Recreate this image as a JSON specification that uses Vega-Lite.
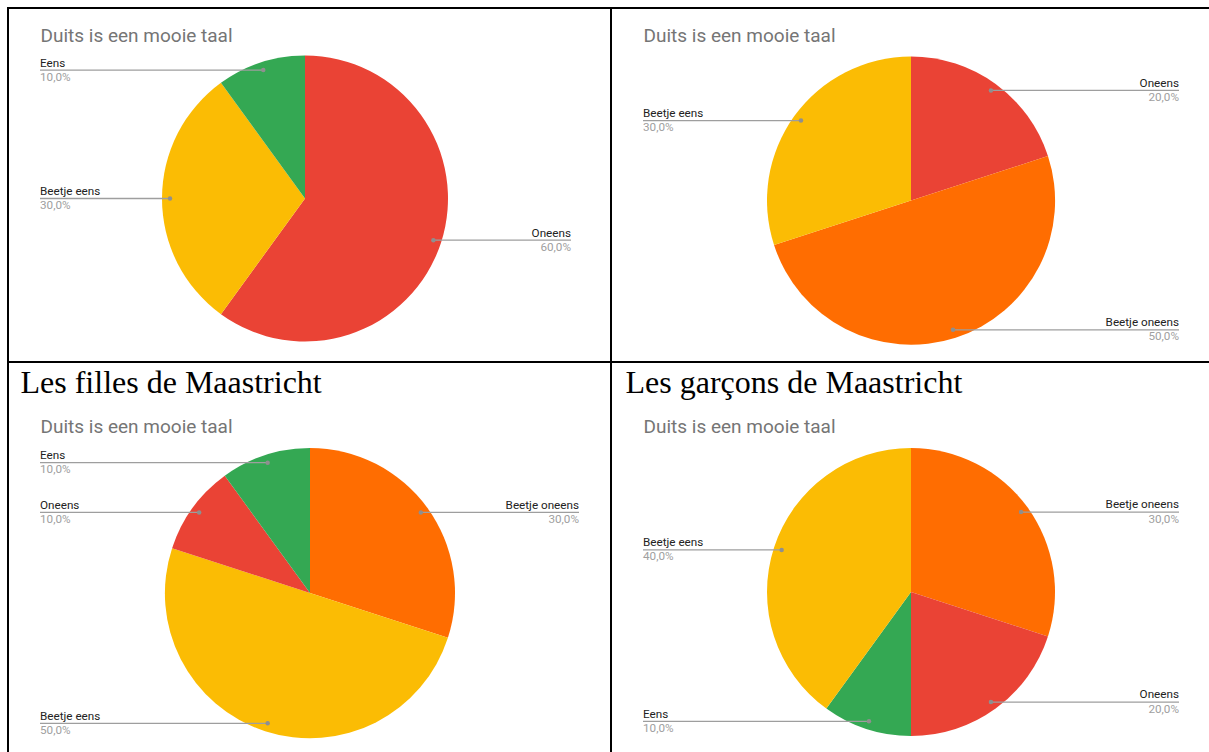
{
  "$schema": "https://vega.github.io/schema/vega-lite/v6.json",
  "background": "white",
  "padding": {"left": 7, "top": 7, "right": -6, "bottom": -5},
  "datasets": {
    "pie": [
      {"panel": "TL", "category": "Oneens", "value": 0.6, "ord": 1},
      {"panel": "TL", "category": "Beetje eens", "value": 0.3, "ord": 2},
      {"panel": "TL", "category": "Eens", "value": 0.1, "ord": 3},
      {"panel": "TR", "category": "Oneens", "value": 0.2, "ord": 1},
      {"panel": "TR", "category": "Beetje oneens", "value": 0.5, "ord": 2},
      {"panel": "TR", "category": "Beetje eens", "value": 0.3, "ord": 3},
      {"panel": "BL", "category": "Beetje oneens", "value": 0.3, "ord": 1},
      {"panel": "BL", "category": "Beetje eens", "value": 0.5, "ord": 2},
      {"panel": "BL", "category": "Oneens", "value": 0.1, "ord": 3},
      {"panel": "BL", "category": "Eens", "value": 0.1, "ord": 4},
      {"panel": "BR", "category": "Beetje oneens", "value": 0.3, "ord": 1},
      {"panel": "BR", "category": "Oneens", "value": 0.2, "ord": 2},
      {"panel": "BR", "category": "Eens", "value": 0.1, "ord": 3},
      {"panel": "BR", "category": "Beetje eens", "value": 0.4, "ord": 4}
    ]
  },
  "data": {"name": "pie"},
  "columns": 2,
  "spacing": 0,
  "bounds": "flush",
  "resolve": {"scale": {"x": "independent", "y": "independent", "theta": "independent"}},
  "config": {
    "view": {"stroke": "#000000", "strokeWidth": 2},
    "font": "Roboto",
    "locale": {"number": {"decimal": ",", "thousands": ".", "grouping": [3], "currency": ["€", ""]}}
  },
  "concat": [
    {
      "width": 603, "height": 354,
      "transform": [
        {"filter": "datum.panel === 'TL'"},
        {"window": [{"op": "sum", "field": "value", "as": "cum"}], "sort": [{"field": "ord"}]},
        {"calculate": "2 * PI * (datum.cum - datum.value / 2)", "as": "ang"},
        {"calculate": "297 + 135 * sin(datum.ang)", "as": "px"},
        {"calculate": "190.5 - 135 * cos(datum.ang)", "as": "py"},
        {"calculate": "sin(datum.ang) < 0 ? 'left' : 'right'", "as": "side"},
        {"calculate": "datum.side === 'left' ? 32 : 563", "as": "ex"}
      ],
      "layer": [
        {
          "mark": {"type": "arc", "outerRadius": 143},
          "encoding": {
            "theta": {"field": "value", "type": "quantitative", "stack": true},
            "order": {"field": "ord", "type": "quantitative"},
            "color": {"field": "category", "type": "nominal", "legend": null, "scale": {"domain": ["Oneens", "Beetje oneens", "Beetje eens", "Eens"], "range": ["#EA4335", "#FF6D01", "#FBBC04", "#34A853"]}},
            "x": {"datum": 297, "type": "quantitative", "scale": {"domain": [0, 603], "nice": false, "zero": false}, "axis": null},
            "y": {"datum": 190.5, "type": "quantitative", "scale": {"domain": [0, 354], "reverse": true, "nice": false, "zero": false},
                  "axis": {"orient": "left", "domain": false, "ticks": false, "labels": false, "grid": false, "title": "Duits is een mooie taal", "titleAngle": 0, "titleX": 32, "titleY": 33, "titleAlign": "left", "titleBaseline": "alphabetic", "titleFont": "Roboto", "titleFontSize": 19, "titleFontWeight": "normal", "titleColor": "#757575"}}
          }
        },
        {
          "mark": {"type": "rule", "color": "#9e9e9e", "strokeWidth": 1.3},
          "encoding": {
            "x": {"field": "px", "type": "quantitative", "scale": {"domain": [0, 603], "nice": false, "zero": false}, "axis": null},
            "x2": {"field": "ex"},
            "y": {"field": "py", "type": "quantitative", "scale": {"domain": [0, 354], "reverse": true, "nice": false, "zero": false},
                  "axis": {"orient": "left", "domain": false, "ticks": false, "labels": false, "grid": false, "title": "Duits is een mooie taal", "titleAngle": 0, "titleX": 32, "titleY": 33, "titleAlign": "left", "titleBaseline": "alphabetic", "titleFont": "Roboto", "titleFontSize": 19, "titleFontWeight": "normal", "titleColor": "#757575"}}
          }
        },
        {
          "mark": {"type": "point", "filled": true, "size": 20, "color": "#8f8f8f", "opacity": 1},
          "encoding": {
            "x": {"field": "px", "type": "quantitative", "scale": {"domain": [0, 603], "nice": false, "zero": false}, "axis": null},
            "y": {"field": "py", "type": "quantitative", "scale": {"domain": [0, 354], "reverse": true, "nice": false, "zero": false},
                  "axis": {"orient": "left", "domain": false, "ticks": false, "labels": false, "grid": false, "title": "Duits is een mooie taal", "titleAngle": 0, "titleX": 32, "titleY": 33, "titleAlign": "left", "titleBaseline": "alphabetic", "titleFont": "Roboto", "titleFontSize": 19, "titleFontWeight": "normal", "titleColor": "#757575"}}
          }
        },
        {
          "mark": {"type": "text", "font": "Roboto", "fontSize": 11.7, "color": "#222222", "baseline": "alphabetic", "dy": -3.6, "align": {"expr": "datum.side"}},
          "encoding": {
            "x": {"field": "ex", "type": "quantitative", "scale": {"domain": [0, 603], "nice": false, "zero": false}, "axis": null},
            "y": {"field": "py", "type": "quantitative", "scale": {"domain": [0, 354], "reverse": true, "nice": false, "zero": false},
                  "axis": {"orient": "left", "domain": false, "ticks": false, "labels": false, "grid": false, "title": "Duits is een mooie taal", "titleAngle": 0, "titleX": 32, "titleY": 33, "titleAlign": "left", "titleBaseline": "alphabetic", "titleFont": "Roboto", "titleFontSize": 19, "titleFontWeight": "normal", "titleColor": "#757575"}},
            "text": {"field": "category", "type": "nominal"}
          }
        },
        {
          "mark": {"type": "text", "font": "Roboto", "fontSize": 11.7, "color": "#a0a0a0", "baseline": "alphabetic", "dy": 10.5, "align": {"expr": "datum.side"}},
          "encoding": {
            "x": {"field": "ex", "type": "quantitative", "scale": {"domain": [0, 603], "nice": false, "zero": false}, "axis": null},
            "y": {"field": "py", "type": "quantitative", "scale": {"domain": [0, 354], "reverse": true, "nice": false, "zero": false},
                  "axis": {"orient": "left", "domain": false, "ticks": false, "labels": false, "grid": false, "title": "Duits is een mooie taal", "titleAngle": 0, "titleX": 32, "titleY": 33, "titleAlign": "left", "titleBaseline": "alphabetic", "titleFont": "Roboto", "titleFontSize": 19, "titleFontWeight": "normal", "titleColor": "#757575"}},
            "text": {"field": "value", "type": "quantitative", "format": ".1%"}
          }
        }
      ]
    },
    {
      "width": 603, "height": 354,
      "transform": [
        {"filter": "datum.panel === 'TR'"},
        {"window": [{"op": "sum", "field": "value", "as": "cum"}], "sort": [{"field": "ord"}]},
        {"calculate": "2 * PI * (datum.cum - datum.value / 2)", "as": "ang"},
        {"calculate": "300 + 136 * sin(datum.ang)", "as": "px"},
        {"calculate": "192.5 - 136 * cos(datum.ang)", "as": "py"},
        {"calculate": "sin(datum.ang) < 0 ? 'left' : 'right'", "as": "side"},
        {"calculate": "datum.side === 'left' ? 32 : 568", "as": "ex"}
      ],
      "layer": [
        {
          "mark": {"type": "arc", "outerRadius": 144},
          "encoding": {
            "theta": {"field": "value", "type": "quantitative", "stack": true},
            "order": {"field": "ord", "type": "quantitative"},
            "color": {"field": "category", "type": "nominal", "legend": null, "scale": {"domain": ["Oneens", "Beetje oneens", "Beetje eens", "Eens"], "range": ["#EA4335", "#FF6D01", "#FBBC04", "#34A853"]}},
            "x": {"datum": 300, "type": "quantitative", "scale": {"domain": [0, 603], "nice": false, "zero": false}, "axis": null},
            "y": {"datum": 192.5, "type": "quantitative", "scale": {"domain": [0, 354], "reverse": true, "nice": false, "zero": false},
                  "axis": {"orient": "left", "domain": false, "ticks": false, "labels": false, "grid": false, "title": "Duits is een mooie taal", "titleAngle": 0, "titleX": 32, "titleY": 33, "titleAlign": "left", "titleBaseline": "alphabetic", "titleFont": "Roboto", "titleFontSize": 19, "titleFontWeight": "normal", "titleColor": "#757575"}}
          }
        },
        {
          "mark": {"type": "rule", "color": "#9e9e9e", "strokeWidth": 1.3},
          "encoding": {
            "x": {"field": "px", "type": "quantitative", "scale": {"domain": [0, 603], "nice": false, "zero": false}, "axis": null},
            "x2": {"field": "ex"},
            "y": {"field": "py", "type": "quantitative", "scale": {"domain": [0, 354], "reverse": true, "nice": false, "zero": false},
                  "axis": {"orient": "left", "domain": false, "ticks": false, "labels": false, "grid": false, "title": "Duits is een mooie taal", "titleAngle": 0, "titleX": 32, "titleY": 33, "titleAlign": "left", "titleBaseline": "alphabetic", "titleFont": "Roboto", "titleFontSize": 19, "titleFontWeight": "normal", "titleColor": "#757575"}}
          }
        },
        {
          "mark": {"type": "point", "filled": true, "size": 20, "color": "#8f8f8f", "opacity": 1},
          "encoding": {
            "x": {"field": "px", "type": "quantitative", "scale": {"domain": [0, 603], "nice": false, "zero": false}, "axis": null},
            "y": {"field": "py", "type": "quantitative", "scale": {"domain": [0, 354], "reverse": true, "nice": false, "zero": false},
                  "axis": {"orient": "left", "domain": false, "ticks": false, "labels": false, "grid": false, "title": "Duits is een mooie taal", "titleAngle": 0, "titleX": 32, "titleY": 33, "titleAlign": "left", "titleBaseline": "alphabetic", "titleFont": "Roboto", "titleFontSize": 19, "titleFontWeight": "normal", "titleColor": "#757575"}}
          }
        },
        {
          "mark": {"type": "text", "font": "Roboto", "fontSize": 11.7, "color": "#222222", "baseline": "alphabetic", "dy": -3.6, "align": {"expr": "datum.side"}},
          "encoding": {
            "x": {"field": "ex", "type": "quantitative", "scale": {"domain": [0, 603], "nice": false, "zero": false}, "axis": null},
            "y": {"field": "py", "type": "quantitative", "scale": {"domain": [0, 354], "reverse": true, "nice": false, "zero": false},
                  "axis": {"orient": "left", "domain": false, "ticks": false, "labels": false, "grid": false, "title": "Duits is een mooie taal", "titleAngle": 0, "titleX": 32, "titleY": 33, "titleAlign": "left", "titleBaseline": "alphabetic", "titleFont": "Roboto", "titleFontSize": 19, "titleFontWeight": "normal", "titleColor": "#757575"}},
            "text": {"field": "category", "type": "nominal"}
          }
        },
        {
          "mark": {"type": "text", "font": "Roboto", "fontSize": 11.7, "color": "#a0a0a0", "baseline": "alphabetic", "dy": 10.5, "align": {"expr": "datum.side"}},
          "encoding": {
            "x": {"field": "ex", "type": "quantitative", "scale": {"domain": [0, 603], "nice": false, "zero": false}, "axis": null},
            "y": {"field": "py", "type": "quantitative", "scale": {"domain": [0, 354], "reverse": true, "nice": false, "zero": false},
                  "axis": {"orient": "left", "domain": false, "ticks": false, "labels": false, "grid": false, "title": "Duits is een mooie taal", "titleAngle": 0, "titleX": 32, "titleY": 33, "titleAlign": "left", "titleBaseline": "alphabetic", "titleFont": "Roboto", "titleFontSize": 19, "titleFontWeight": "normal", "titleColor": "#757575"}},
            "text": {"field": "value", "type": "quantitative", "format": ".1%"}
          }
        }
      ]
    },
    {
      "width": 603, "height": 394,
      "transform": [
        {"filter": "datum.panel === 'BL'"},
        {"window": [{"op": "sum", "field": "value", "as": "cum"}], "sort": [{"field": "ord"}]},
        {"calculate": "2 * PI * (datum.cum - datum.value / 2)", "as": "ang"},
        {"calculate": "302 + 137 * sin(datum.ang)", "as": "px"},
        {"calculate": "231 - 137 * cos(datum.ang)", "as": "py"},
        {"calculate": "sin(datum.ang) < 0 ? 'left' : 'right'", "as": "side"},
        {"calculate": "datum.side === 'left' ? 32 : 571", "as": "ex"}
      ],
      "layer": [
        {
          "mark": {"type": "arc", "outerRadius": 145},
          "encoding": {
            "theta": {"field": "value", "type": "quantitative", "stack": true},
            "order": {"field": "ord", "type": "quantitative"},
            "color": {"field": "category", "type": "nominal", "legend": null, "scale": {"domain": ["Oneens", "Beetje oneens", "Beetje eens", "Eens"], "range": ["#EA4335", "#FF6D01", "#FBBC04", "#34A853"]}},
            "x": {"datum": 302, "type": "quantitative", "scale": {"domain": [0, 603], "nice": false, "zero": false},
                  "axis": {"orient": "top", "domain": false, "ticks": false, "labels": false, "grid": false, "title": "Les filles de Maastricht", "titleX": 12, "titleY": 30.3, "titleAlign": "left", "titleBaseline": "alphabetic", "titleFont": "Liberation Serif", "titleFontSize": 32, "titleFontWeight": "normal", "titleColor": "#000000"}},
            "y": {"datum": 231, "type": "quantitative", "scale": {"domain": [0, 394], "reverse": true, "nice": false, "zero": false},
                  "axis": {"orient": "left", "domain": false, "ticks": false, "labels": false, "grid": false, "title": "Duits is een mooie taal", "titleAngle": 0, "titleX": 32, "titleY": 70.5, "titleAlign": "left", "titleBaseline": "alphabetic", "titleFont": "Roboto", "titleFontSize": 19, "titleFontWeight": "normal", "titleColor": "#757575"}}
          }
        },
        {
          "mark": {"type": "rule", "color": "#9e9e9e", "strokeWidth": 1.3},
          "encoding": {
            "x": {"field": "px", "type": "quantitative", "scale": {"domain": [0, 603], "nice": false, "zero": false},
                  "axis": {"orient": "top", "domain": false, "ticks": false, "labels": false, "grid": false, "title": "Les filles de Maastricht", "titleX": 12, "titleY": 30.3, "titleAlign": "left", "titleBaseline": "alphabetic", "titleFont": "Liberation Serif", "titleFontSize": 32, "titleFontWeight": "normal", "titleColor": "#000000"}},
            "x2": {"field": "ex"},
            "y": {"field": "py", "type": "quantitative", "scale": {"domain": [0, 394], "reverse": true, "nice": false, "zero": false},
                  "axis": {"orient": "left", "domain": false, "ticks": false, "labels": false, "grid": false, "title": "Duits is een mooie taal", "titleAngle": 0, "titleX": 32, "titleY": 70.5, "titleAlign": "left", "titleBaseline": "alphabetic", "titleFont": "Roboto", "titleFontSize": 19, "titleFontWeight": "normal", "titleColor": "#757575"}}
          }
        },
        {
          "mark": {"type": "point", "filled": true, "size": 20, "color": "#8f8f8f", "opacity": 1},
          "encoding": {
            "x": {"field": "px", "type": "quantitative", "scale": {"domain": [0, 603], "nice": false, "zero": false},
                  "axis": {"orient": "top", "domain": false, "ticks": false, "labels": false, "grid": false, "title": "Les filles de Maastricht", "titleX": 12, "titleY": 30.3, "titleAlign": "left", "titleBaseline": "alphabetic", "titleFont": "Liberation Serif", "titleFontSize": 32, "titleFontWeight": "normal", "titleColor": "#000000"}},
            "y": {"field": "py", "type": "quantitative", "scale": {"domain": [0, 394], "reverse": true, "nice": false, "zero": false},
                  "axis": {"orient": "left", "domain": false, "ticks": false, "labels": false, "grid": false, "title": "Duits is een mooie taal", "titleAngle": 0, "titleX": 32, "titleY": 70.5, "titleAlign": "left", "titleBaseline": "alphabetic", "titleFont": "Roboto", "titleFontSize": 19, "titleFontWeight": "normal", "titleColor": "#757575"}}
          }
        },
        {
          "mark": {"type": "text", "font": "Roboto", "fontSize": 11.7, "color": "#222222", "baseline": "alphabetic", "dy": -3.6, "align": {"expr": "datum.side"}},
          "encoding": {
            "x": {"field": "ex", "type": "quantitative", "scale": {"domain": [0, 603], "nice": false, "zero": false},
                  "axis": {"orient": "top", "domain": false, "ticks": false, "labels": false, "grid": false, "title": "Les filles de Maastricht", "titleX": 12, "titleY": 30.3, "titleAlign": "left", "titleBaseline": "alphabetic", "titleFont": "Liberation Serif", "titleFontSize": 32, "titleFontWeight": "normal", "titleColor": "#000000"}},
            "y": {"field": "py", "type": "quantitative", "scale": {"domain": [0, 394], "reverse": true, "nice": false, "zero": false},
                  "axis": {"orient": "left", "domain": false, "ticks": false, "labels": false, "grid": false, "title": "Duits is een mooie taal", "titleAngle": 0, "titleX": 32, "titleY": 70.5, "titleAlign": "left", "titleBaseline": "alphabetic", "titleFont": "Roboto", "titleFontSize": 19, "titleFontWeight": "normal", "titleColor": "#757575"}},
            "text": {"field": "category", "type": "nominal"}
          }
        },
        {
          "mark": {"type": "text", "font": "Roboto", "fontSize": 11.7, "color": "#a0a0a0", "baseline": "alphabetic", "dy": 10.5, "align": {"expr": "datum.side"}},
          "encoding": {
            "x": {"field": "ex", "type": "quantitative", "scale": {"domain": [0, 603], "nice": false, "zero": false},
                  "axis": {"orient": "top", "domain": false, "ticks": false, "labels": false, "grid": false, "title": "Les filles de Maastricht", "titleX": 12, "titleY": 30.3, "titleAlign": "left", "titleBaseline": "alphabetic", "titleFont": "Liberation Serif", "titleFontSize": 32, "titleFontWeight": "normal", "titleColor": "#000000"}},
            "y": {"field": "py", "type": "quantitative", "scale": {"domain": [0, 394], "reverse": true, "nice": false, "zero": false},
                  "axis": {"orient": "left", "domain": false, "ticks": false, "labels": false, "grid": false, "title": "Duits is een mooie taal", "titleAngle": 0, "titleX": 32, "titleY": 70.5, "titleAlign": "left", "titleBaseline": "alphabetic", "titleFont": "Roboto", "titleFontSize": 19, "titleFontWeight": "normal", "titleColor": "#757575"}},
            "text": {"field": "value", "type": "quantitative", "format": ".1%"}
          }
        }
      ]
    },
    {
      "width": 603, "height": 394,
      "transform": [
        {"filter": "datum.panel === 'BR'"},
        {"window": [{"op": "sum", "field": "value", "as": "cum"}], "sort": [{"field": "ord"}]},
        {"calculate": "2 * PI * (datum.cum - datum.value / 2)", "as": "ang"},
        {"calculate": "300 + 136 * sin(datum.ang)", "as": "px"},
        {"calculate": "230 - 136 * cos(datum.ang)", "as": "py"},
        {"calculate": "sin(datum.ang) < 0 ? 'left' : 'right'", "as": "side"},
        {"calculate": "datum.side === 'left' ? 32 : 568", "as": "ex"}
      ],
      "layer": [
        {
          "mark": {"type": "arc", "outerRadius": 144},
          "encoding": {
            "theta": {"field": "value", "type": "quantitative", "stack": true},
            "order": {"field": "ord", "type": "quantitative"},
            "color": {"field": "category", "type": "nominal", "legend": null, "scale": {"domain": ["Oneens", "Beetje oneens", "Beetje eens", "Eens"], "range": ["#EA4335", "#FF6D01", "#FBBC04", "#34A853"]}},
            "x": {"datum": 300, "type": "quantitative", "scale": {"domain": [0, 603], "nice": false, "zero": false},
                  "axis": {"orient": "top", "domain": false, "ticks": false, "labels": false, "grid": false, "title": "Les garçons de Maastricht", "titleX": 14, "titleY": 30.3, "titleAlign": "left", "titleBaseline": "alphabetic", "titleFont": "Liberation Serif", "titleFontSize": 32, "titleFontWeight": "normal", "titleColor": "#000000"}},
            "y": {"datum": 230, "type": "quantitative", "scale": {"domain": [0, 394], "reverse": true, "nice": false, "zero": false},
                  "axis": {"orient": "left", "domain": false, "ticks": false, "labels": false, "grid": false, "title": "Duits is een mooie taal", "titleAngle": 0, "titleX": 32, "titleY": 70.5, "titleAlign": "left", "titleBaseline": "alphabetic", "titleFont": "Roboto", "titleFontSize": 19, "titleFontWeight": "normal", "titleColor": "#757575"}}
          }
        },
        {
          "mark": {"type": "rule", "color": "#9e9e9e", "strokeWidth": 1.3},
          "encoding": {
            "x": {"field": "px", "type": "quantitative", "scale": {"domain": [0, 603], "nice": false, "zero": false},
                  "axis": {"orient": "top", "domain": false, "ticks": false, "labels": false, "grid": false, "title": "Les garçons de Maastricht", "titleX": 14, "titleY": 30.3, "titleAlign": "left", "titleBaseline": "alphabetic", "titleFont": "Liberation Serif", "titleFontSize": 32, "titleFontWeight": "normal", "titleColor": "#000000"}},
            "x2": {"field": "ex"},
            "y": {"field": "py", "type": "quantitative", "scale": {"domain": [0, 394], "reverse": true, "nice": false, "zero": false},
                  "axis": {"orient": "left", "domain": false, "ticks": false, "labels": false, "grid": false, "title": "Duits is een mooie taal", "titleAngle": 0, "titleX": 32, "titleY": 70.5, "titleAlign": "left", "titleBaseline": "alphabetic", "titleFont": "Roboto", "titleFontSize": 19, "titleFontWeight": "normal", "titleColor": "#757575"}}
          }
        },
        {
          "mark": {"type": "point", "filled": true, "size": 20, "color": "#8f8f8f", "opacity": 1},
          "encoding": {
            "x": {"field": "px", "type": "quantitative", "scale": {"domain": [0, 603], "nice": false, "zero": false},
                  "axis": {"orient": "top", "domain": false, "ticks": false, "labels": false, "grid": false, "title": "Les garçons de Maastricht", "titleX": 14, "titleY": 30.3, "titleAlign": "left", "titleBaseline": "alphabetic", "titleFont": "Liberation Serif", "titleFontSize": 32, "titleFontWeight": "normal", "titleColor": "#000000"}},
            "y": {"field": "py", "type": "quantitative", "scale": {"domain": [0, 394], "reverse": true, "nice": false, "zero": false},
                  "axis": {"orient": "left", "domain": false, "ticks": false, "labels": false, "grid": false, "title": "Duits is een mooie taal", "titleAngle": 0, "titleX": 32, "titleY": 70.5, "titleAlign": "left", "titleBaseline": "alphabetic", "titleFont": "Roboto", "titleFontSize": 19, "titleFontWeight": "normal", "titleColor": "#757575"}}
          }
        },
        {
          "mark": {"type": "text", "font": "Roboto", "fontSize": 11.7, "color": "#222222", "baseline": "alphabetic", "dy": -3.6, "align": {"expr": "datum.side"}},
          "encoding": {
            "x": {"field": "ex", "type": "quantitative", "scale": {"domain": [0, 603], "nice": false, "zero": false},
                  "axis": {"orient": "top", "domain": false, "ticks": false, "labels": false, "grid": false, "title": "Les garçons de Maastricht", "titleX": 14, "titleY": 30.3, "titleAlign": "left", "titleBaseline": "alphabetic", "titleFont": "Liberation Serif", "titleFontSize": 32, "titleFontWeight": "normal", "titleColor": "#000000"}},
            "y": {"field": "py", "type": "quantitative", "scale": {"domain": [0, 394], "reverse": true, "nice": false, "zero": false},
                  "axis": {"orient": "left", "domain": false, "ticks": false, "labels": false, "grid": false, "title": "Duits is een mooie taal", "titleAngle": 0, "titleX": 32, "titleY": 70.5, "titleAlign": "left", "titleBaseline": "alphabetic", "titleFont": "Roboto", "titleFontSize": 19, "titleFontWeight": "normal", "titleColor": "#757575"}},
            "text": {"field": "category", "type": "nominal"}
          }
        },
        {
          "mark": {"type": "text", "font": "Roboto", "fontSize": 11.7, "color": "#a0a0a0", "baseline": "alphabetic", "dy": 10.5, "align": {"expr": "datum.side"}},
          "encoding": {
            "x": {"field": "ex", "type": "quantitative", "scale": {"domain": [0, 603], "nice": false, "zero": false},
                  "axis": {"orient": "top", "domain": false, "ticks": false, "labels": false, "grid": false, "title": "Les garçons de Maastricht", "titleX": 14, "titleY": 30.3, "titleAlign": "left", "titleBaseline": "alphabetic", "titleFont": "Liberation Serif", "titleFontSize": 32, "titleFontWeight": "normal", "titleColor": "#000000"}},
            "y": {"field": "py", "type": "quantitative", "scale": {"domain": [0, 394], "reverse": true, "nice": false, "zero": false},
                  "axis": {"orient": "left", "domain": false, "ticks": false, "labels": false, "grid": false, "title": "Duits is een mooie taal", "titleAngle": 0, "titleX": 32, "titleY": 70.5, "titleAlign": "left", "titleBaseline": "alphabetic", "titleFont": "Roboto", "titleFontSize": 19, "titleFontWeight": "normal", "titleColor": "#757575"}},
            "text": {"field": "value", "type": "quantitative", "format": ".1%"}
          }
        }
      ]
    }
  ]
}
